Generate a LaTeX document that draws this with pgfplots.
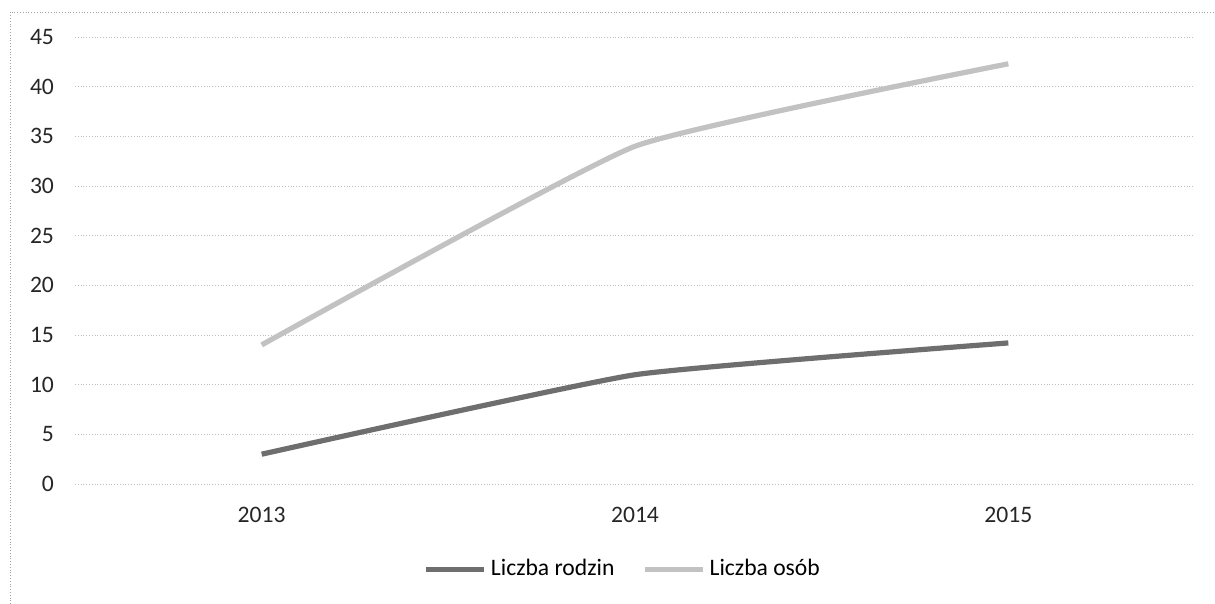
\documentclass[border=0pt]{standalone}
\usepackage{pgfplots}
\pgfplotsset{compat=1.18}
\usepackage{fontspec}
\setmainfont{Carlito}
\definecolor{dark}{HTML}{6E6E6E}
\definecolor{light}{HTML}{C2C2C2}
\definecolor{grid}{HTML}{A0A0A0}
\begin{document}
\begin{tikzpicture}
\useasboundingbox (0pt,0pt) rectangle (607.5pt,302pt);
\draw[grid, densely dotted, line width=0.4pt] (5pt,0pt) -- (5pt,296pt) -- (607.5pt,296pt);
\begin{axis}[
  at={(37.5pt,60pt)}, anchor=south west,
  scale only axis, width=560pt, height=223.5pt,
  xmin=-0.5, xmax=2.5, ymin=0, ymax=45,
  xtick={0,1,2}, xticklabels={2013,2014,2015},
  ytick={0,5,...,45},
  axis line style={draw=none},
  major tick length=0pt, tick style={draw=none},
  xmajorgrids=false, ymajorgrids=true,
  grid style={grid, densely dotted, line width=0.4pt},
  tick label style={font=\fontsize{11.8}{13}\selectfont, text=black!85},
  yticklabel style={xshift=-7pt},
  xticklabel style={yshift=-8pt},
  /pgf/number format/assume math mode=true,
  legend style={at={(0.49,-0.15)}, anchor=north, draw=none, fill=none,
    legend columns=2, font=\fontsize{11.8}{13}\selectfont,
    /tikz/every even column/.append style={column sep=12pt}},
  legend image code/.code={\draw[#1] (0pt,0pt) -- (29pt,0pt);},
  legend cell align=left,
]
\addplot[dark, line width=2.6pt, smooth, tension=0.25] coordinates {(0,3) (1,11) (2,14.2)};
\addlegendentry{Liczba rodzin}
\addplot[light, line width=2.6pt, smooth, tension=0.25] coordinates {(0,14) (1,34) (2,42.3)};
\addlegendentry{Liczba osób}
\end{axis}
\end{tikzpicture}
\end{document}
